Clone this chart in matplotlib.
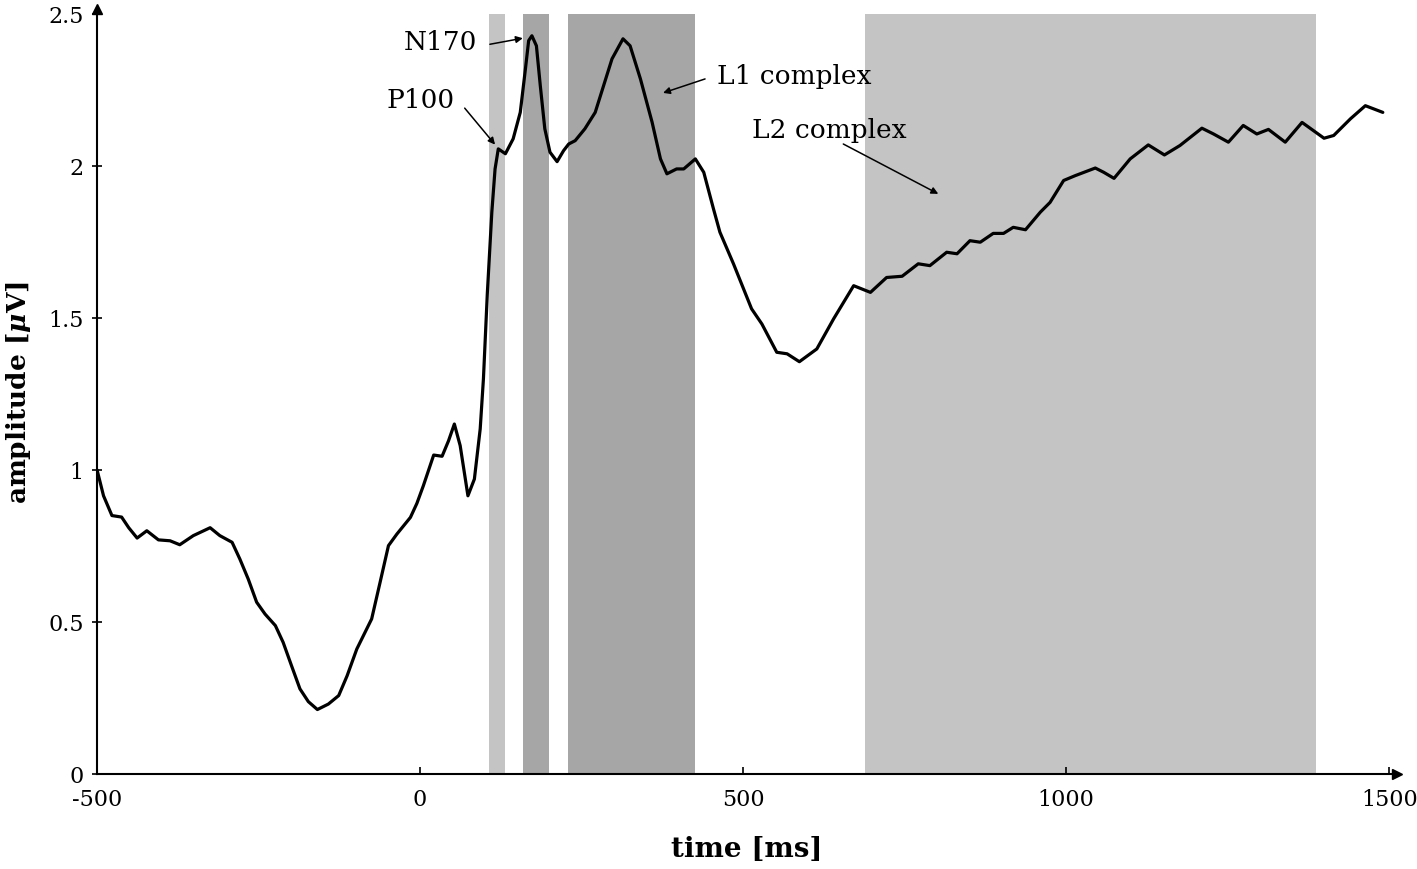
import matplotlib
matplotlib.use("Agg")
import matplotlib.pyplot as plt

plt.rcParams["font.family"] = ["DejaVu Serif"]
plt.rcParams["mathtext.fontset"] = "custom"
plt.rcParams["mathtext.it"] = "DejaVu Serif:italic:bold"

# ERP waveform (time in ms, amplitude in microvolts)
time_ms = [-500, -490, -477, -462, -451, -438, -423, -405, -387, -372, -351,
           -325, -310, -291, -279, -266, -253, -240, -224, -212, -199, -186,
           -173, -159, -142, -126, -113, -98, -75, -62, -49, -36, -15, -5, 5,
           21, 34, 44, 53, 62, 74, 84, 93, 98, 104, 111, 116, 121, 132, 144,
           155, 163, 168, 173, 180, 186, 193, 201, 212, 222, 230, 240, 255,
           271, 284, 297, 314, 325, 341, 359, 372, 382, 397, 408, 426, 439,
           454, 464, 485, 513, 529, 552, 568, 587, 614, 640, 671, 697, 722,
           746, 771, 789, 815, 831, 851, 867, 887, 903, 918, 937, 960, 975,
           996, 1014, 1045, 1058, 1074, 1099, 1127, 1152, 1176, 1210, 1228,
           1251, 1274, 1295, 1313, 1339, 1365, 1399, 1414, 1440, 1463, 1490]
amp_uv = [1.00, 0.915, 0.85, 0.845, 0.81, 0.776, 0.80, 0.77, 0.767, 0.754,
          0.784, 0.81, 0.784, 0.762, 0.707, 0.641, 0.565, 0.526, 0.488, 0.433,
          0.356, 0.280, 0.238, 0.212, 0.23, 0.258, 0.323, 0.411, 0.51, 0.63,
          0.751, 0.789, 0.844, 0.89, 0.948, 1.049, 1.045, 1.096, 1.151, 1.08,
          0.915, 0.97, 1.135, 1.30, 1.58, 1.848, 1.99, 2.056, 2.04, 2.089,
          2.176, 2.319, 2.412, 2.428, 2.395, 2.264, 2.122, 2.045, 2.014, 2.05,
          2.072, 2.083, 2.122, 2.176, 2.264, 2.352, 2.418, 2.395, 2.286,
          2.144, 2.023, 1.974, 1.99, 1.99, 2.023, 1.979, 1.859, 1.782, 1.678,
          1.53, 1.48, 1.387, 1.382, 1.356, 1.398, 1.497, 1.606, 1.584, 1.633,
          1.637, 1.678, 1.672, 1.716, 1.711, 1.754, 1.749, 1.778, 1.778,
          1.798, 1.79, 1.848, 1.88, 1.952, 1.968, 1.993, 1.979, 1.959, 2.023,
          2.069, 2.036, 2.067, 2.124, 2.105, 2.078, 2.133, 2.105, 2.12, 2.078,
          2.143, 2.091, 2.1, 2.155, 2.198, 2.176]

# shaded time windows (start, end, colour)
windows = [(106, 132, "#c4c4c4"),
           (160, 200, "#a6a6a6"),
           (229, 426, "#a6a6a6"),
           (688, 1386, "#c4c4c4")]

# component labels: text, text position, arrow head position, alignment
labels = [("N170", (88, 2.41), (159, 2.42), "right"),
          ("P100", (54, 2.22), (116, 2.07), "right"),
          ("L1 complex", (460, 2.296), (376, 2.24), "left"),
          ("L2 complex", (513, 2.12), (802, 1.908), "left")]
label_tails = [(108, 2.40), (69, 2.19), (441, 2.286), (655, 2.072)]

xticks = [-500, 0, 500, 1000, 1500]
yticks = [0, 0.5, 1, 1.5, 2, 2.5]
ytick_labels = ["0", "0.5", "1", "1.5", "2", "2.5"]

fig = plt.figure(figsize=(14.17, 8.70), dpi=100)
ax = fig.add_axes([0.0685, 0.1092, 0.9174, 0.8793])

for start, end, colour in windows:
    ax.fill_between([start, end], 0, 2.5, color=colour, lw=0, zorder=1)

ax.plot(time_ms, amp_uv, color="black", lw=2.3, solid_joinstyle="round",
        solid_capstyle="round", zorder=3)

for (txt, pos, head, ha), tail in zip(labels, label_tails):
    ax.annotate("", xy=head, xytext=tail,
                arrowprops=dict(arrowstyle="-|>", color="black", lw=1.1,
                                mutation_scale=10, shrinkA=0, shrinkB=0),
                zorder=4)
    ax.text(pos[0], pos[1], txt, ha=ha, va="center", fontsize=19, zorder=4)

ax.set_xlim(-500, 1512)
ax.set_ylim(0, 2.516)

for side in ["top", "right"]:
    ax.spines[side].set_visible(False)
for side in ["left", "bottom"]:
    ax.spines[side].set_linewidth(1.5)
    ax.spines[side].set_zorder(5)

# arrow heads at the ends of the axes
ax.plot(1, 0, ">k", ms=7, transform=ax.transAxes, clip_on=False)
ax.plot(0, 1, "^k", ms=7, transform=ax.transAxes, clip_on=False)

ax.set_xticks(xticks)
ax.set_xticklabels([str(t) for t in xticks])
ax.set_yticks(yticks)
ax.set_yticklabels(ytick_labels)
ax.tick_params(axis="x", direction="in", length=5, width=1.2, pad=10,
               labelsize=16)
ax.tick_params(axis="y", direction="inout", length=7, width=1.2, pad=6,
               labelsize=16)

ax.set_xlabel("time [ms]", fontsize=20, fontweight="bold", labelpad=18)
ax.set_ylabel(r"amplitude [$\mu$V]", fontsize=19, fontweight="bold",
              labelpad=11)

fig.savefig("out.png", dpi=100)
